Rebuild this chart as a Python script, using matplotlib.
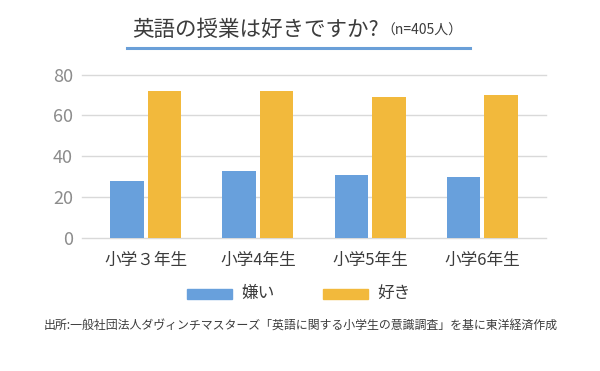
import numpy as np
import matplotlib
matplotlib.use('Agg')
from matplotlib import pyplot as plt
from matplotlib.patches import Rectangle

plt.rcParams['font.family'] = ['Noto Sans CJK JP', 'DejaVu Sans']

# データ
grades = ['小学３年生', '小学4年生', '小学5年生', '小学6年生']
dislike = [28, 33, 31, 30]
like = [72, 72, 69, 70]
series_names = ['嫌い', '好き']
yticks = [0, 20, 40, 60, 80]

blue = '#68a0dc'
yellow = '#f2b93c'
text_col = '#3c3c3c'

W, H = 600, 371
fig = plt.figure(figsize=(6, 3.71), dpi=100)

# グラフ領域 (ピクセル座標から)
ax = fig.add_axes([82 / W, (H - 238) / H, 464 / W, (238 - 74.5) / H])
x = np.arange(len(grades))
w = 0.30
ax.bar(x - 0.167, dislike, w, color=blue, zorder=3)
ax.bar(x + 0.167, like, w, color=yellow, zorder=3)

ax.set_xlim(-0.57, 3.57)
ax.set_ylim(0, 80)
ax.set_yticks(yticks)
ax.set_yticklabels([str(v) for v in yticks], fontsize=13, color='#8c8c8c')
ax.set_xticks(x)
ax.set_xticklabels(grades, fontsize=12, color=text_col)
ax.tick_params(axis='y', length=0, pad=6.5)
ax.tick_params(axis='x', length=0, pad=10)
ax.grid(axis='y', color='#d9d9d9', linewidth=1, zorder=0, clip_on=False)
for s in ax.spines.values():
    s.set_visible(False)

# タイトル
t = fig.text(132 / W, 1 - 30 / H, '英語の授業は好きですか?', fontsize=15.5,
             color=text_col, va='center', ha='left')
fig.canvas.draw()
bb = t.get_window_extent()
fig.text(bb.x1 / W + 3 / W, 1 - 31 / H, '（n=405人）', fontsize=10,
         color=text_col, va='center', ha='left')
fig.add_artist(plt.Line2D([127 / W, 470 / W], [1 - 48 / H, 1 - 48 / H],
                          color='#6a9fd8', linewidth=2.2))

# 凡例
for px, col, name in [(187, blue, series_names[0]), (323, yellow, series_names[1])]:
    fig.add_artist(Rectangle((px / W, 1 - 299 / H), 45 / W, 10 / H,
                             color=col, transform=fig.transFigure))
    fig.text((px + 54) / W, 1 - 293 / H, name, fontsize=12, color=text_col,
             va='center', ha='left')

# 出所
fig.text(301 / W, 1 - 325 / H,
         '出所:一般社団法人ダヴィンチマスターズ「英語に関する小学生の意識調査」を基に東洋経済作成',
         fontsize=8.6, color=text_col, va='center', ha='center')

fig.savefig('out.png', dpi=100, facecolor='white')
